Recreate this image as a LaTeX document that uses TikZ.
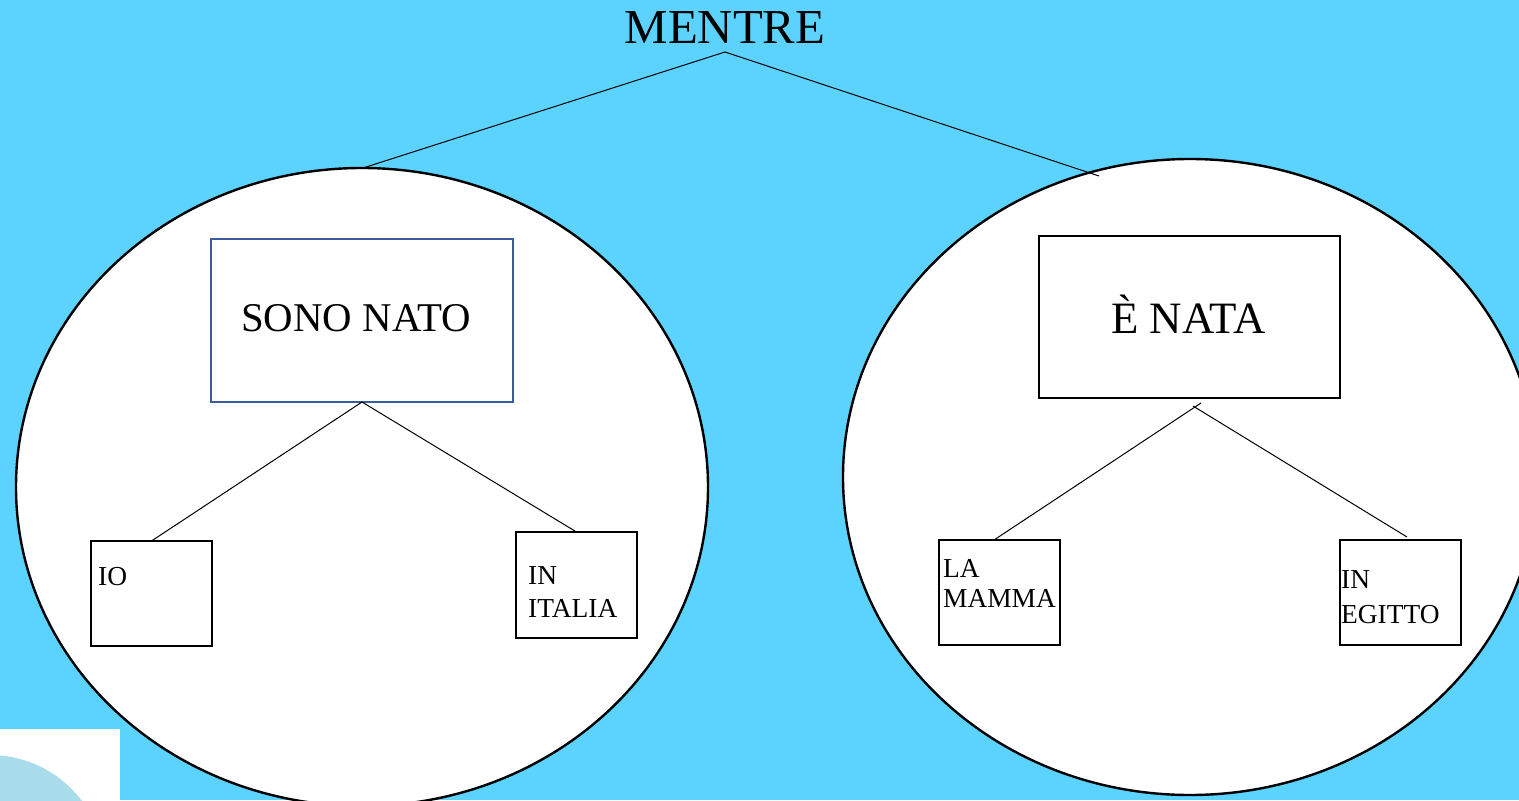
\documentclass[tikz,border=0pt]{standalone}
\usepackage{fontspec}
\setmainfont{Liberation Serif}
\usetikzlibrary{shapes.geometric}
\definecolor{bg}{HTML}{5CD3FE}
\definecolor{logo}{HTML}{A9DDEC}
\definecolor{boxblue}{HTML}{3B5C9C}
\begin{document}
\begin{tikzpicture}[x=1bp,y=-1bp,
  bubble/.style={draw, ellipse, fill=white, line width=2.4bp, inner sep=0pt, outer sep=0pt},
  wordbox/.style={draw, fill=white, line width=2.6bp, inner sep=0pt, outer sep=0pt, minimum width=121bp, minimum height=105bp},
  bigbox/.style={draw, fill=white, line width=2.4bp, inner sep=0pt, outer sep=0pt, minimum width=301bp, minimum height=162bp},
  link/.style={line width=1bp},
  small/.style={font=\fontsize{27.5}{31}\selectfont, inner sep=0pt, anchor=base west},
  big/.style={inner sep=0pt, anchor=base west}]
\useasboundingbox (0,0) rectangle (1519,800);
\clip (0,0) rectangle (1519,800);
\fill[bg] (0,0) rectangle (1519,800);
% logo corner
\fill[white] (0,729) rectangle (120,800);
\begin{scope}
  \clip (0,729) rectangle (120,800);
  \fill[logo] (-10,870) circle[radius=115bp];
\end{scope}
% ellipses
\node[bubble, minimum width=692bp, minimum height=638bp] (leftell) at (362,487) {};
\node[bubble, minimum width=694bp, minimum height=636bp] (rightell) at (1190,477) {};
% title
\node[inner sep=0pt, anchor=base, font=\fontsize{49}{56}\selectfont] (mentre) at (725,44) {MENTRE};
\coordinate (apex) at (725,52);
\coordinate (ltop) at (363,168);
\coordinate (rtop) at (1099,176);
\draw[link] (ltop) -- (apex) -- (rtop);
% big boxes
\node[bigbox, draw=boxblue, minimum width=302bp, minimum height=163bp] (sono) at (362,320.5) {};
\node[big, font=\fontsize{41}{48}\selectfont] (sonotext) at (241,331) {SONO NATO};
\node[bigbox] (enata) at (1189.5,317) {};
\node[big, font=\fontsize{45}{52}\selectfont] (enatatext) at (1111,333) {È NATA};
% small boxes
\node[wordbox] (io) at (151.5,593.5) {};
\node[small] (iotext) at (98,585) {IO};
\node[wordbox, minimum height=106bp] (italia) at (576.5,585) {};
\node[small] (italia1) at (528,584) {IN};
\node[small] (italia2) at (528,617) {ITALIA};
\node[wordbox] (mamma) at (999.5,592.5) {};
\node[small] (mamma1) at (943,577) {LA};
\node[small] (mamma2) at (943,607) {MAMMA};
\node[wordbox] (egitto) at (1400.5,592.5) {};
\node[small] (egitto1) at (1341,588) {IN};
\node[small] (egitto2) at (1341,623) {EGITTO};
% connectors
\draw[link] (io.north) -- (sono.south) -- (italia.north);
\coordinate (ea) at (1201,403);
\coordinate (eb) at (1193,406);
\coordinate (mtop) at (994,540);
\coordinate (gtop) at (1407,537);
\draw[link] (ea) -- (mtop);
\draw[link] (eb) -- (gtop);
\end{tikzpicture}
\end{document}
